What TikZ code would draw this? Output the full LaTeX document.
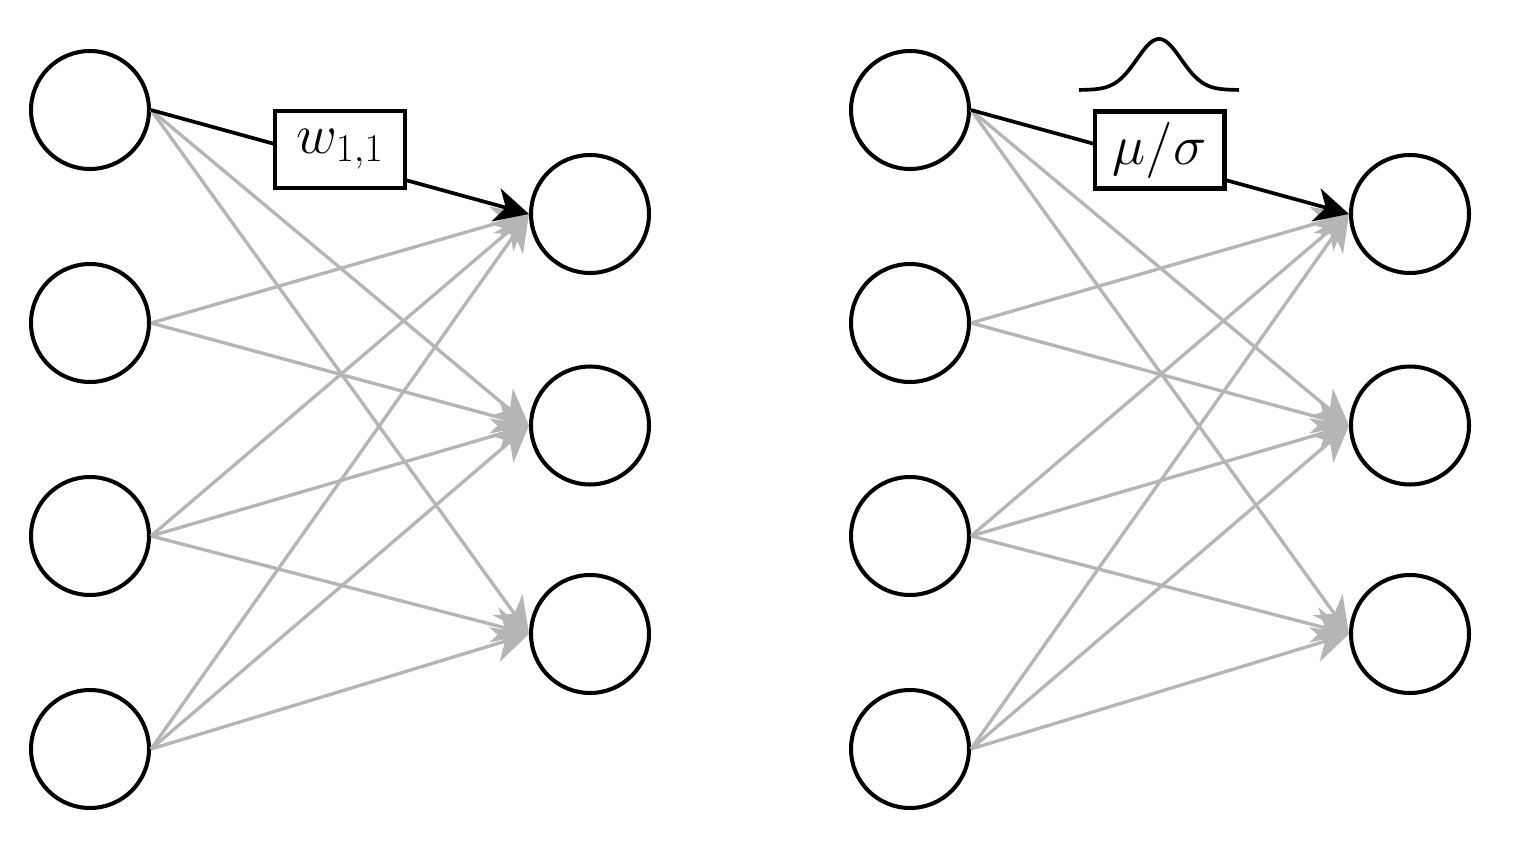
\RequirePackage{fix-cm}
\documentclass[tikz,border=0pt]{standalone}
\usetikzlibrary{arrows.meta}
\begin{document}
\begin{tikzpicture}[x=0.02cm,y=-0.02cm,
  neuron/.style={circle,draw=black,line width=2.3pt,fill=white,minimum size=2.36cm,inner sep=0pt},
  faint/.style={draw=black!29,line width=1.9pt,-{Stealth[length=0.72cm,width=0.72cm,inset=0.22cm]}},
  strong/.style={draw=black,line width=2.1pt,-{Stealth[length=0.68cm,width=0.68cm,inset=0.2cm]}},
  wbox/.style={rectangle,draw=black,fill=white,line width=2.3pt,minimum width=2.6cm,minimum height=1.54cm,inner sep=0pt,font=\fontsize{32}{38}\selectfont},
  bell/.style={line width=2.1pt,line join=round}]
\useasboundingbox (0,0) rectangle (1528,868);
\foreach \s/\dx in {L/0,R/820}{
  \foreach \i/\y in {1/110,2/323,3/536,4/749} \node[neuron] (\s i\i) at (90+\dx,\y) {};
  \foreach \j/\y in {1/214,2/425.5,3/634} \node[neuron] (\s o\j) at (590+\dx,\y) {};
  \foreach \i/\j in {1/2,1/3,2/1,2/2,3/1,3/2,3/3,4/1,4/2,4/3}
    \draw[faint] (\s i\i.east) -- (\s o\j.west);
  \draw[strong] (\s i1.east) -- (\s o1.west);
}
\node[wbox] (Lw) at (340,149.5) {$w_{1,1}$};
\node[wbox] (Rw) at (1159.5,150) {$\mu/\sigma$};
\draw[bell] plot[domain=-80:80,samples=121] ({1159+\x},{90-51*exp(-0.5*(\x/22)^2)});
\end{tikzpicture}
\end{document}
